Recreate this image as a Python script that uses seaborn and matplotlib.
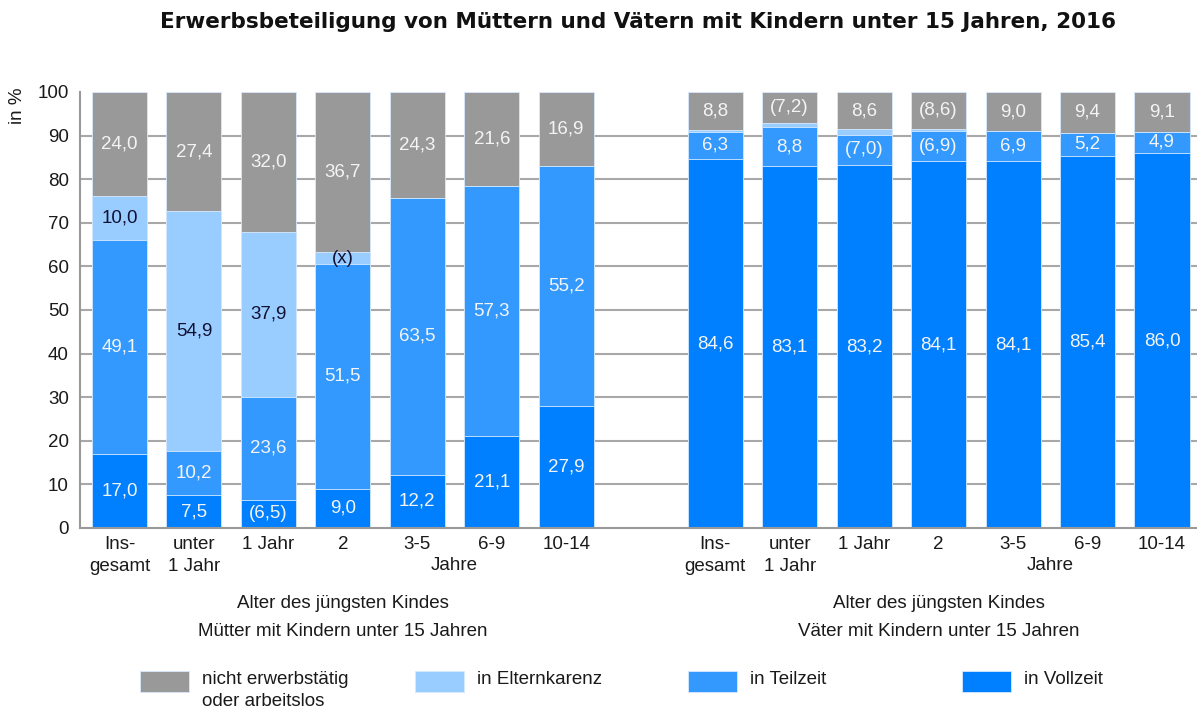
import matplotlib.pyplot as plt
import seaborn as sns
import pandas as pd
from matplotlib.patches import Rectangle

# x categories (same for both groups)
groups = ["Ins-\ngesamt", "unter\n1 Jahr", "1 Jahr", "2", "3-5", "6-9", "10-14"]

# mothers
mothers_full = [17.0, 7.5, 6.5, 9.0, 12.2, 21.1, 27.9]
mothers_part = [49.1, 10.2, 23.6, 51.5, 63.5, 57.3, 55.2]
mothers_leave = [10.0, 54.9, 37.9, 2.8, 0.0, 0.0, 0.0]
mothers_none = [24.0, 27.4, 32.0, 36.7, 24.3, 21.6, 16.9]

# fathers
fathers_full = [84.6, 83.1, 83.2, 84.1, 84.1, 85.4, 86.0]
fathers_part = [6.3, 8.8, 7.0, 6.9, 6.9, 5.2, 4.9]
fathers_leave = [0.3, 0.9, 1.2, 0.4, 0.0, 0.0, 0.0]
fathers_none = [8.8, 7.2, 8.6, 8.6, 9.0, 9.4, 9.1]

# printed labels (parentheses = small sample, x = not shown)
full_lbl = ["17,0", "7,5", "(6,5)", "9,0", "12,2", "21,1", "27,9",
            "84,6", "83,1", "83,2", "84,1", "84,1", "85,4", "86,0"]
part_lbl = ["49,1", "10,2", "23,6", "51,5", "63,5", "57,3", "55,2",
            "6,3", "8,8", "(7,0)", "(6,9)", "6,9", "5,2", "4,9"]
leave_lbl = ["10,0", "54,9", "37,9", "(x)", "", "", "",
             "", "", "", "", "", "", ""]
none_lbl = ["24,0", "27,4", "32,0", "36,7", "24,3", "21,6", "16,9",
            "8,8", "(7,2)", "8,6", "(8,6)", "9,0", "9,4", "9,1"]

series = ["in Vollzeit", "in Teilzeit", "in Elternkarenz", "nicht erwerbstätig\noder arbeitslos"]
colors = ["#0080ff", "#3399ff", "#99ccff", "#999999"]
label_colors = ["#f4f4f4", "#f4f4f4", "#111133", "#f4f4f4"]

positions = list(range(7)) + list(range(8, 15))
df = pd.DataFrame({
    "pos": positions,
    series[0]: mothers_full + fathers_full,
    series[1]: mothers_part + fathers_part,
    series[2]: mothers_leave + fathers_leave,
    series[3]: mothers_none + fathers_none,
})
cum = df[series].cumsum(axis=1)
for s in series:
    df["top_" + s] = cum[s]

sns.set_style("white")
plt.rcParams["font.family"] = ["Liberation Sans", "DejaVu Sans"]

FS = 13.5
W, H = 1197, 713
fig = plt.figure(figsize=(W / 100, H / 100), dpi=100)
ax = fig.add_axes([80 / W, 1 - 528 / H, 1 - 80 / W, (528 - 92) / H])

# horizontal grid (no line at 100)
for yv in range(10, 100, 10):
    ax.axhline(yv, color="#a8a8a8", linewidth=1.5, zorder=0)

# stacked bars: draw cumulative tops from the highest down
for s, c in reversed(list(zip(series, colors))):
    sns.barplot(data=df, x="pos", y="top_" + s, native_scale=True, orient="x",
                width=0.74, color=c, saturation=1, errorbar=None,
                edgecolor="#d6eaff", linewidth=0.6, ax=ax, zorder=2)

# segment labels
lbls = [full_lbl, part_lbl, leave_lbl, none_lbl]
for k, s in enumerate(series):
    bottoms = df["top_" + s] - df[s]
    for i, p in enumerate(positions):
        if lbls[k][i]:
            ax.text(p, bottoms[i] + df[s][i] / 2, lbls[k][i], ha="center", va="center",
                    fontsize=FS, color=label_colors[k], zorder=3)

ax.set_xlim(-0.53, 14.47)
ax.set_ylim(0, 100)
ax.set_yticks(range(0, 101, 10))
ax.set_xticks(positions)
ax.set_xticklabels(groups + groups, fontsize=FS, color="#1a1a1a", linespacing=1.35)
ax.tick_params(axis="x", length=0, pad=6)
ax.tick_params(axis="y", length=5, width=1.5, color="#999999", pad=3, labelsize=13.5,
               labelcolor="#1a1a1a")
ax.set_xlabel("")
ax.set_ylabel("")
ax.grid(False)
for side in ["top", "right"]:
    ax.spines[side].set_visible(False)
for side in ["left", "bottom"]:
    ax.spines[side].set_color("#999999")
    ax.spines[side].set_linewidth(1.5)

# group annotations below the axis
def under(x, ypix, text):
    ax.annotate(text, xy=(x, H - ypix), xycoords=("data", "figure pixels"),
                ha="center", va="center", fontsize=FS, color="#1a1a1a")

for x0 in (0, 8):
    under(x0 + 4.5, 566, "Jahre")
    under(x0 + 3, 603, "Alter des jüngsten Kindes")
under(3, 632, "Mütter mit Kindern unter 15 Jahren")
under(11, 632, "Väter mit Kindern unter 15 Jahren")

fig.text(18 / W, 1 - 106 / H, "in %", rotation=90, ha="center", va="center",
         fontsize=FS, color="#1a1a1a")
fig.text(638 / W, 1 - 22 / H,
         "Erwerbsbeteiligung von Müttern und Vätern mit Kindern unter 15 Jahren, 2016",
         ha="center", va="center", fontsize=15.5, fontweight="bold",
         family="DejaVu Sans", color="#111111")

# legend
legend_x = [140, 415, 688, 962]
legend_order = [3, 2, 1, 0]
for lx, k in zip(legend_x, legend_order):
    fig.patches.append(Rectangle((lx / W, 1 - 692 / H), 49 / W, 21 / H,
                                 transform=fig.transFigure, facecolor=colors[k],
                                 edgecolor="#d6eaff", linewidth=0.6))
    fig.text((lx + 62) / W, 1 - 671 / H, series[k], ha="left", va="top",
             fontsize=FS, color="#1a1a1a", linespacing=1.4)

fig.savefig("out.png", dpi=100)
